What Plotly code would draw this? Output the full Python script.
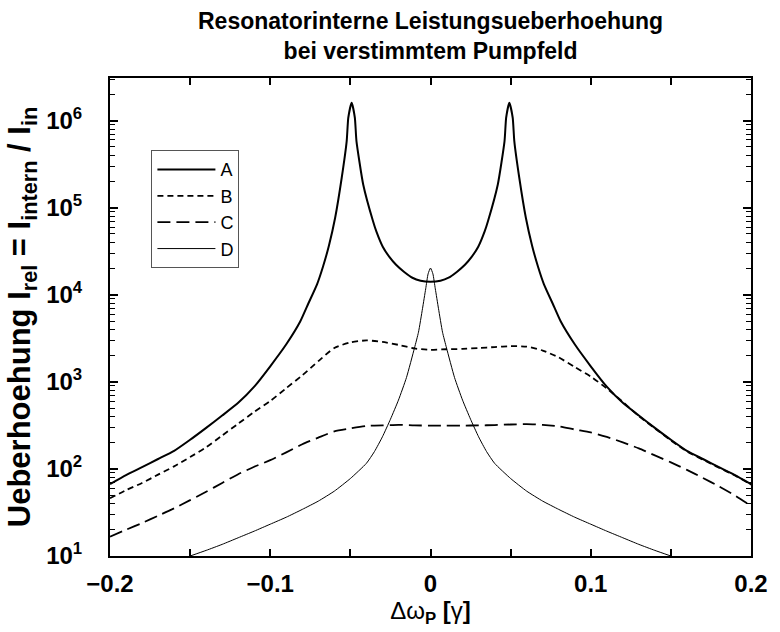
import plotly.graph_objects as go

# Detuning of the pump field in units of gamma
x_a = [-0.2, -0.19, -0.18, -0.17, -0.16, -0.15, -0.14, -0.13, -0.12, -0.11,
       -0.10, -0.09, -0.0813, -0.0763, -0.0708, -0.0671, -0.0634, -0.0595,
       -0.0554, -0.0523, -0.0513, -0.0492, -0.0472, -0.0462, -0.042, -0.0359,
       -0.0338, -0.0298, -0.0258, -0.0215, -0.0166, -0.0113, -0.0062,
       0.0,
       0.0062, 0.0113, 0.0166, 0.0215, 0.0258, 0.0298, 0.0338,
       0.0359, 0.042, 0.0462, 0.0472, 0.0492, 0.0513, 0.0523, 0.0554,
       0.0595, 0.0634, 0.0671, 0.0708, 0.0763, 0.0813, 0.09,
       0.10, 0.11, 0.12, 0.13, 0.14, 0.15, 0.16, 0.17, 0.18, 0.19, 0.2]
y_a = [67, 85, 105, 130, 161, 216, 296, 410, 574, 881,
       1510, 2700, 4930, 7890, 13200, 21000, 36600, 76700,
       221000, 583000, 1080000, 1610000, 1080000, 583000, 185000, 70300,
       53400, 35600, 27400, 22100, 18400, 15700, 14500,
       14100,
       14500, 15700, 18400, 22100, 27400, 35600, 53400,
       70300, 185000, 583000, 1080000, 1610000, 1080000, 583000, 221000,
       76700, 36600, 21000, 13200, 7890, 4930, 2700,
       1510, 881, 574, 410, 296, 216, 161, 130, 105, 85, 67]

x_bc = [-0.2, -0.19, -0.18, -0.17, -0.16, -0.15, -0.14, -0.13, -0.12, -0.11,
        -0.10, -0.09, -0.08, -0.07, -0.06, -0.05, -0.04, -0.03, -0.02, -0.01,
        0.0, 0.01, 0.02, 0.03, 0.04, 0.05, 0.06, 0.07, 0.08, 0.09,
        0.10, 0.11, 0.12, 0.13, 0.14, 0.15, 0.16, 0.17, 0.18, 0.19, 0.2]
y_b = [46, 57, 69, 86, 107, 137, 177, 242, 331, 452,
       603, 847, 1190, 1730, 2450, 2840, 2990, 2880, 2660, 2420,
       2330, 2370, 2390, 2450, 2510, 2570, 2540, 2290, 1910, 1480,
       1150, 841, 589, 405, 292, 213, 159, 128, 103, 84, 66]
y_c = [16.7, 20.0, 23.9, 29.0, 35.3, 43.8, 54.6, 69.0, 87.0, 106,
       126, 155, 192, 229, 270, 292, 312, 316, 321, 316,
       315, 315, 315, 316, 319, 324, 327, 321, 309, 284,
       263, 233, 202, 172, 143, 119, 97.5, 78.9, 63.1, 49.5, 37.6]

x_d = [-0.15, -0.14, -0.13, -0.12, -0.11, -0.10, -0.09, -0.08, -0.07, -0.06,
       -0.05, -0.04, -0.035, -0.03, -0.025, -0.02, -0.015, -0.01, -0.0075,
       -0.005, -0.003, -0.0015,
       0.0,
       0.0015, 0.003, 0.005, 0.0075, 0.01, 0.015, 0.02, 0.025, 0.03, 0.035,
       0.04, 0.05, 0.06, 0.07, 0.08, 0.09, 0.10, 0.11, 0.12, 0.13, 0.14, 0.15]
y_d = [10.0, 11.6, 13.6, 16.2, 19.3, 23.2, 27.9, 34.3, 42.7, 55.6,
       77.6, 116, 158, 234, 372, 617, 1120, 2450, 3720,
       6920, 11700, 17400,
       20300,
       17400, 11700, 6920, 3720, 2450, 1120, 617, 372, 234, 158,
       116, 77.6, 55.6, 42.7, 34.3, 27.9, 23.2, 19.3, 16.2, 13.6, 11.6, 10.0]

x_ticks = [-0.2, -0.1, 0.0, 0.1, 0.2]
x_minor = [-0.15, -0.05, 0.05, 0.15]
y_ticks = [1e1, 1e2, 1e3, 1e4, 1e5, 1e6]
y_ticktext = ["10<sup>1</sup>", "10<sup>2</sup>", "10<sup>3</sup>",
              "10<sup>4</sup>", "10<sup>5</sup>", "10<sup>6</sup>"]
y_minor = [k * 10 ** n for n in range(1, 7) for k in range(2, 10) if k * 10 ** n < 3.1e6]

FONT = "Liberation Sans, Arial, Helvetica, sans-serif"

fig = go.Figure()
fig.add_trace(go.Scatter(x=x_a, y=y_a, name="A", mode="lines",
                         line=dict(color="black", width=2,
                                   shape="spline", smoothing=0.5)))
fig.add_trace(go.Scatter(x=x_bc, y=y_b, name="B", mode="lines",
                         line=dict(color="black", width=1.8, dash="6px,4px",
                                   shape="spline", smoothing=0.6)))
fig.add_trace(go.Scatter(x=x_bc, y=y_c, name="C", mode="lines",
                         line=dict(color="black", width=1.8, dash="13px,6px",
                                   shape="spline", smoothing=0.6)))
fig.add_trace(go.Scatter(x=x_d, y=y_d, name="D", mode="lines",
                         line=dict(color="black", width=1,
                                   shape="spline", smoothing=0.5)))

axis_common = dict(
    showgrid=False, zeroline=False, showline=True, linecolor="black",
    linewidth=2, mirror="ticks", ticks="inside", tickcolor="black",
    tickwidth=1.5,
    tickfont=dict(family=FONT, size=24, color="black", weight="bold"),
)

fig.update_xaxes(
    range=[-0.2, 0.2], tickvals=x_ticks, ticklen=7, ticklabelstandoff=5,
    minor=dict(tickvals=x_minor, ticks="inside", ticklen=7, tickwidth=1.5,
               tickcolor="black"),
    title=dict(text="Δω<sub><b>P</b></sub> <b>[</b>γ<b>]</b>",
               font=dict(family=FONT, size=24, color="black"), standoff=6),
    **axis_common,
)
fig.update_yaxes(
    type="log", range=[1, 6.49], tickvals=y_ticks, ticktext=y_ticktext,
    ticklen=8, ticklabelstandoff=21,
    minor=dict(tickvals=y_minor, ticks="inside", ticklen=5, tickwidth=1.2,
               tickcolor="black"),
    title=dict(text="<b>Ueberhoehung I<sub>rel</sub> = I<sub>intern</sub> / I<sub>in</sub></b>",
               font=dict(family=FONT, size=31, color="black"), standoff=6),
    **axis_common,
)

# two-line heading above the plot area
fig.add_annotation(text="<b>Resonatorinterne Leistungsueberhoehung<br>bei verstimmtem Pumpfeld</b>",
                   xref="paper", yref="paper", x=0.5, y=(556 - 6) / 478,
                   xanchor="center", yanchor="top", showarrow=False,
                   align="center",
                   font=dict(family=FONT, size=23, color="black"))

fig.update_layout(
    width=780, height=632,
    margin=dict(l=110, r=20, t=78, b=76),
    paper_bgcolor="white", plot_bgcolor="white",
    showlegend=True,
    legend=dict(x=0.0646, y=0.849, xanchor="left", yanchor="top",
                bgcolor="white", bordercolor="#555555", borderwidth=1,
                font=dict(family=FONT, size=18, color="black"),
                itemwidth=58, traceorder="normal"),
)

fig.write_html("out.html")
